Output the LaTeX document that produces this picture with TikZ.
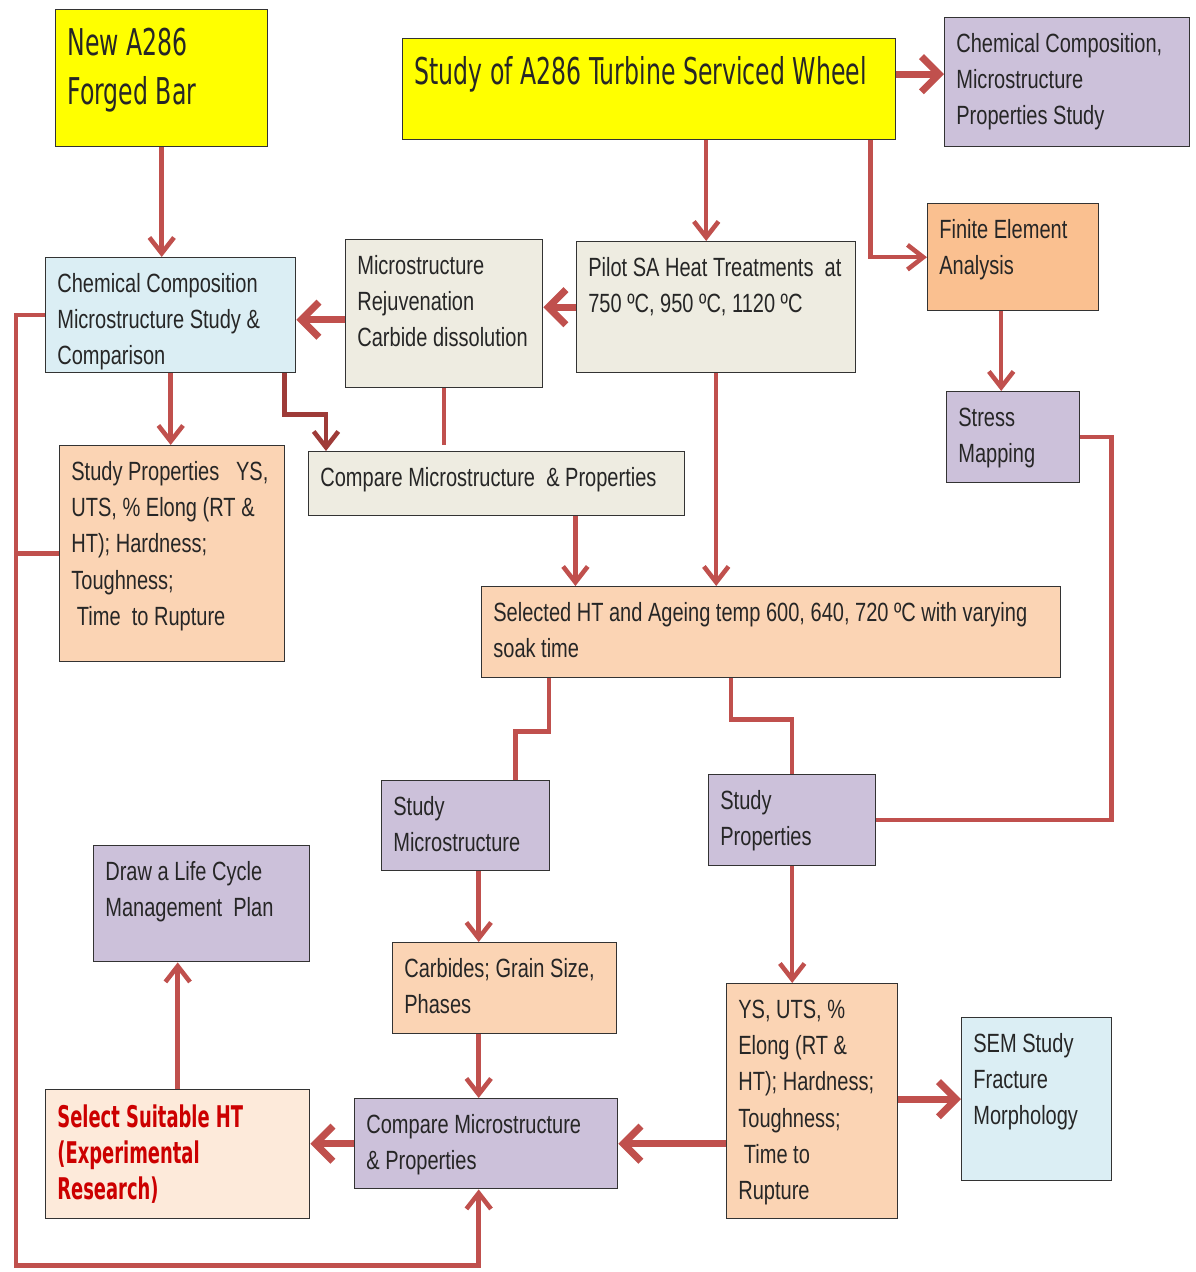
\documentclass[tikz,border=0pt]{standalone}
\usepackage{fontspec}
\setmainfont{Liberation Sans}[FakeStretch=0.76]
\newfontfamily\headfont{DejaVu Sans}[FakeStretch=0.64]
\newfontfamily\redfont{DejaVu Sans}[FakeStretch=0.6]
\usetikzlibrary{arrows.meta}

\definecolor{boxyellow}{HTML}{FFFF00}
\definecolor{boxlav}{HTML}{CCC1DA}
\definecolor{boxorange}{HTML}{FAC090}
\definecolor{boxpeach}{HTML}{FBD4B4}
\definecolor{boxbeige}{HTML}{EEECE1}
\definecolor{boxblue}{HTML}{DBEEF4}
\definecolor{boxcream}{HTML}{FDEADA}
\definecolor{linered}{HTML}{C0504D}
\definecolor{linedark}{HTML}{9E3B38}
\definecolor{txtred}{HTML}{CC0000}

% box with top-left text: [baseline drop]{name}{style}{x1}{y1}{x2}{y2}{lines}
\newcommand{\flowbox}[8][35]{%
  \node[box, #3, minimum width={(#6-#4)*0.02cm}, minimum height={(#7-#5)*0.02cm}] (#2) at (#4,#5) {};
  \node[txt, #3, fill=none] (#2-t) at ([shift={(12,#1)}]#2.north west)
    {\begin{tabular}[t]{@{}l@{}}#8\end{tabular}};
}

\begin{document}
\begin{tikzpicture}[x=0.02cm, y=-0.02cm,
    box/.style={draw=black!80, line width=0.8pt, inner sep=0pt, anchor=north west},
    txt/.style={inner sep=0pt, anchor=base west, text=black!85, font=\fontsize{15}{20.7}\selectfont},
    yel/.style={fill=boxyellow, font=\headfont\fontsize{21}{28.3}\selectfont},
    lav/.style={fill=boxlav},
    orng/.style={fill=boxorange},
    peach/.style={fill=boxpeach},
    beige/.style={fill=boxbeige},
    blue/.style={fill=boxblue},
    redsel/.style={fill=boxcream, text=txtred, font=\redfont\bfseries\fontsize{17}{20.7}\selectfont},
    flow/.style={draw=linered, line width=2.6pt, -{Straight Barb[length=9pt, width=14pt]}},
    bigflow/.style={draw=linered, line width=4pt, -{Straight Barb[length=10pt, width=20pt]}},
    link/.style={draw=linered, line width=2.6pt}]
  \useasboundingbox (0,0) rectangle (1196,1272);

  % top row
  \flowbox[46]{newbar}{yel}{55}{9}{267}{146}{New A286\\Forged Bar}
  \flowbox[46]{wheel}{yel}{402}{38}{895}{139}{Study of A286 Turbine Serviced Wheel}
  \flowbox{chemsvc}{lav}{944}{17}{1189}{146}{Chemical Composition,\\Microstructure\\Properties Study}
  \flowbox{fea}{orng}{927}{203}{1098}{310}{Finite Element\\Analysis}
  \flowbox{stress}{lav}{946}{391}{1079}{482}{Stress\\Mapping}

  % heat treatment row
  \flowbox{pilot}{beige}{576}{241}{855}{372}{Pilot SA Heat Treatments\ \ at\\750 ºC, 950 ºC, 1120 ºC}
  \flowbox{rejuv}{beige}{345}{239}{542}{387}{Microstructure\\Rejuvenation\\Carbide dissolution}
  \flowbox{chemnew}{blue}{45}{257}{295}{372}{Chemical Composition\\Microstructure Study \&\\Comparison}
  \flowbox{propnew}{peach}{59}{445}{284}{661}{Study Properties\ \ \ YS,\\UTS, \% Elong (RT \&\\HT); Hardness;\\Toughness;\\\ Time\ \ to Rupture}
  \flowbox{cmp1}{beige}{308}{451}{684}{515}{Compare Microstructure\ \ \& Properties}
  \flowbox{sel}{peach}{481}{586}{1060}{677}{Selected HT and Ageing temp 600, 640, 720 ºC with varying\\soak time}

  % lower part
  \flowbox{studymic}{lav}{381}{780}{549}{870}{Study\\Microstructure}
  \flowbox{studyprop}{lav}{708}{774}{875}{865}{Study\\Properties}
  \flowbox{lcm}{lav}{93}{845}{309}{961}{Draw a Life Cycle\\Management\ \ Plan}
  \flowbox{carb}{peach}{392}{942}{616}{1033}{Carbides; Grain Size,\\Phases}
  \flowbox{props2}{peach}{726}{983}{897}{1218}{YS, UTS, \%\\Elong (RT \&\\HT); Hardness;\\Toughness;\\\ Time to\\Rupture}
  \flowbox{sem}{blue}{961}{1017}{1111}{1180}{SEM Study\\Fracture\\Morphology}
  \flowbox[38]{select}{redsel}{45}{1089}{309}{1218}{Select Suitable HT\\(Experimental\\Research)}
  \flowbox{cmp2}{lav}{354}{1098}{617}{1188}{Compare Microstructure\\\& Properties}

  \coordinate (pilot-in) at ([shift={(-10,0)}]pilot.north);
  \coordinate (svc-in) at ([shift={(0,-8)}]chemsvc.west);
  \coordinate (wheel-fe) at ([shift={(-26,0)}]wheel.south east);
  \coordinate (fea-out) at ([shift={(-12,0)}]fea.south);
  \coordinate (rejuv-out) at ([shift={(0,6)}]rejuv.west);
  \coordinate (cmp1-out) at ([shift={(-110,0)}]cmp1.south east);
  \coordinate (mic-out) at ([shift={(13,0)}]studymic.south);

  % connectors
  \draw[flow] (newbar.south) -- (newbar.south |- chemnew.north);
  \draw[flow] (wheel.south -| pilot-in) -- (pilot-in);
  \draw[bigflow] (wheel.east |- svc-in) -- (svc-in);
  \draw[flow] (wheel-fe) |- (fea.west);
  \draw[flow] (fea-out) -- (fea-out |- stress.north);
  \draw[link] (stress.east) -- ++(31,0) |- (studyprop.east);
  \draw[bigflow] (pilot.west) -- (pilot.west -| rejuv.east);
  \draw[bigflow] (rejuv-out) -- (rejuv-out -| chemnew.east);
  \draw[flow] (chemnew.south) -- (chemnew.south |- propnew.north);
  \draw[flow, draw=linedark] ([shift={(-12,0)}]chemnew.south east) -- ++(0,41) -| ([shift={(18,0)}]cmp1.north west);
  \draw[link] (rejuv.south) -- ([shift={(0,-6)}]rejuv.south |- cmp1.north);
  \draw[flow] (pilot.south) -- (pilot.south |- sel.north);
  \draw[flow] (cmp1-out) -- (cmp1-out |- sel.north);
  \draw[link] ([shift={(68,0)}]sel.south west) -- ++(0,53) -| ([shift={(50,0)}]studymic.north);
  \draw[link] ([shift={(250,0)}]sel.south west) -- ++(0,41) -| (studyprop.north);
  \draw[flow] (mic-out) -- (mic-out |- carb.north);
  \draw[flow] (mic-out |- carb.south) -- (mic-out |- cmp2.north);
  \draw[flow] (studyprop.south) -- (studyprop.south |- props2.north);
  \draw[bigflow] (props2.east |- sem.west) -- (sem.west);
  \draw[bigflow] (props2.west |- cmp2.east) -- (cmp2.east);
  \draw[bigflow] (cmp2.west) -- (cmp2.west -| select.east);
  \draw[flow] (select.north) -- (select.north |- lcm.south);
  \draw[flow] (chemnew.west) -- ++(-29,0) -- ++(0,950) -| (mic-out |- cmp2.south);
  \draw[link] (propnew.west) -- ++(-43,0);
\end{tikzpicture}
\end{document}
